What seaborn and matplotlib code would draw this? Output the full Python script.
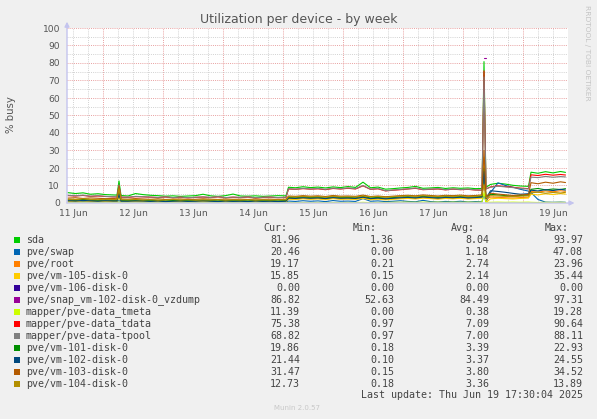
import numpy as np
import pandas as pd
import matplotlib
matplotlib.use("Agg")
import matplotlib.pyplot as plt
import seaborn as sns
from matplotlib.patches import Rectangle

nan = np.nan

# time axis: hours since 11 Jun 00:00
hours = [10, 13, 16, 19, 22, 25, 28,
         29.6, 30.4, 31.2,
         34, 37, 40, 43, 46, 49, 52, 55, 58, 61, 64, 67, 70, 73, 76, 79, 82, 85, 88, 91, 94, 97.2,
         98.2, 101, 104, 107, 110, 113, 116, 119, 122, 125, 128, 131, 134, 137, 140, 143, 146, 149,
         152, 155, 158, 161, 164, 167, 170, 173, 175.6,
         176.4, 177.2,
         179, 182, 185, 188, 191, 194.2,
         195.2, 198, 201, 204, 207, 209]

series_names = ["sda", "pve/swap", "pve/root", "pve/vm-105-disk-0", "pve/vm-106-disk-0",
                "pve/snap_vm-102-disk-0_vzdump", "mapper/pve-data_tmeta", "mapper/pve-data_tdata",
                "mapper/pve-data-tpool", "pve/vm-101-disk-0", "pve/vm-102-disk-0",
                "pve/vm-103-disk-0", "pve/vm-104-disk-0"]
series_colors = ["#00CC00", "#0066B3", "#FF8000", "#FFCC00", "#330099", "#990099", "#CCFF00",
                 "#FF0000", "#808080", "#008F00", "#00487D", "#B35A00", "#B38F00"]

sda = [5.9, 5.4, 5.8, 5.0, 5.3, 4.8, 4.6,
       4.5, 12.6, 4.3,
       4.0, 5.4, 4.8, 4.4, 4.2, 3.9, 4.1, 3.8, 4.0, 4.2, 5.0, 4.1, 3.8, 4.2, 5.1, 4.0, 3.9, 4.1, 3.8, 4.0, 4.2, 4.1,
       9.0, 8.7, 9.3, 8.8, 9.1, 8.6, 9.2, 8.8, 9.4, 8.9, 11.9, 8.7, 9.1, 7.9, 8.2, 8.6, 8.9, 9.5, 8.4, 8.6, 8.9, 8.3, 8.7, 8.4, 8.6, 8.2, 8.3,
       80.8, 9.0,
       10.6, 11.3, 10.8, 10.1, 9.7, 9.5,
       17.6, 17.0, 17.9, 17.2, 18.0, 17.5]
swap = [0.8, 0.5, 0.9, 0.6, 0.4, 0.8, 0.6,
        0.6, 1.5, 0.5,
        0.6, 0.8, 0.5, 0.7, 0.4, 0.6, 0.8, 0.5, 0.6, 0.4, 0.7, 0.6, 0.5, 0.7, 0.4, 0.6, 0.5, 0.7, 0.4, 0.6, 0.5, 0.6,
        1.1, 0.9, 1.3, 1.0, 1.2, 0.8, 1.4, 1.0, 1.1, 0.9, 2.5, 1.0, 1.2, 0.8, 1.0, 1.3, 0.9, 0.7, 1.5, 0.8, 0.6, 0.9, 0.7, 1.0, 0.6, 0.8, 0.7,
        5.0, 0.5,
        6.0, 11.5, 10.0, 9.0, 7.8, 6.8,
        6.0, 2.0, 0.5, 0.4, 0.5, 0.4]
root = [1.6, 1.4, 1.8, 1.5, 1.3, 1.6, 1.4,
        1.4, 4.0, 1.3,
        1.2, 1.4, 1.3, 1.1, 1.3, 1.0, 1.2, 1.3, 1.1, 1.2, 1.4, 1.2, 1.0, 1.3, 1.1, 1.2, 1.0, 1.3, 1.1, 1.2, 1.0, 1.2,
        2.5, 2.3, 2.7, 2.4, 2.6, 2.2, 2.8, 2.4, 2.5, 2.3, 3.0, 2.2, 2.5, 2.1, 2.4, 2.7, 2.9, 2.6, 3.1, 2.8, 2.5, 2.9, 2.7, 3.0, 2.6, 2.8, 3.1,
        16.0, 2.0,
        3.4, 3.2, 3.0, 2.8, 3.1, 3.3,
        6.6, 6.2, 6.9, 6.4, 7.0, 6.7]
vm105 = [1.0, 0.8, 1.2, 0.9, 0.7, 1.0, 0.8,
         0.8, 3.0, 0.7,
         0.8, 1.0, 0.9, 0.7, 0.9, 0.6, 0.8, 0.9, 0.7, 0.8, 1.0, 0.8, 0.6, 0.9, 0.7, 0.8, 0.6, 0.9, 0.7, 0.8, 0.6, 0.8,
         2.2, 2.0, 2.4, 2.1, 2.3, 1.9, 2.5, 2.1, 2.2, 2.0, 2.6, 1.9, 2.2, 1.8, 2.1, 2.4, 2.6, 2.3, 2.8, 2.5, 2.2, 2.6, 2.4, 2.7, 2.3, 2.5, 2.8,
         26.0, 0.3,
         2.4, 2.7, 2.5, 2.3, 2.6, 2.8,
         5.0, 4.6, 5.3, 4.8, 5.4, 5.1]
vm106 = [0, 0, 0, 0, 0, 0, 0,
         0, 0, 0,
         0, 0, 0, 0, 0, 0, 0, 0, 0, 0, 0, 0, 0, 0, 0, 0, 0, 0, 0, 0, 0, 0,
         0, 0, 0, 0, 0, 0, 0, 0, 0, 0, 0, 0, 0, 0, 0, 0, 0, 0, 0, 0, 0, 0, 0, 0, 0, 0, 0,
         0, 0,
         0, 0, 0, 0, 0, 0,
         0, 0, 0, 0, 0, 0]
snap102 = [nan, nan, nan, nan, nan, nan, nan,
           nan, nan, nan,
           nan, nan, nan, nan, nan, nan, nan, nan, nan, nan, nan, nan, nan, nan, nan, nan, nan, nan, nan, nan, nan, nan,
           nan, nan, nan, nan, nan, nan, nan, nan, nan, nan, nan, nan, nan, nan, nan, nan, nan, nan, nan, nan, nan, nan, nan, nan, nan, nan, nan,
           82.6, 82.6,
           nan, nan, nan, nan, nan, nan,
           nan, nan, nan, nan, nan, nan]
tmeta = [0.2, 0.1, 0.2, 0.1, 0.2, 0.1, 0.2,
         0.2, 0.5, 0.2,
         0.2, 0.1, 0.2, 0.1, 0.2, 0.1, 0.2, 0.1, 0.2, 0.1, 0.2, 0.1, 0.2, 0.1, 0.2, 0.1, 0.2, 0.1, 0.2, 0.1, 0.2, 0.1,
         0.3, 0.2, 0.3, 0.2, 0.3, 0.2, 0.3, 0.2, 0.3, 0.2, 0.4, 0.2, 0.3, 0.3, 0.4, 0.4, 0.5, 0.4, 0.5, 0.4, 0.5, 0.4, 0.5, 0.4, 0.5, 0.4, 0.5,
         6.0, 0.4,
         0.4, 0.5, 0.4, 0.5, 0.4, 0.5,
         0.4, 0.3, 0.4, 0.3, 0.4, 0.3]
tdata = [4.2, 4.0, 4.3, 3.8, 4.0, 3.7, 3.5,
         3.4, 10.0, 3.3,
         3.2, 3.6, 3.5, 3.3, 3.1, 3.4, 3.0, 3.3, 2.9, 3.2, 3.4, 3.1, 3.5, 3.0, 3.3, 3.1, 3.4, 2.9, 3.2, 3.3, 3.0, 3.2,
         8.0, 7.8, 8.2, 7.9, 8.1, 7.6, 8.3, 8.0, 8.4, 8.0, 9.8, 7.8, 8.1, 6.9, 7.3, 7.6, 8.0, 8.4, 7.6, 7.8, 8.0, 7.5, 7.9, 7.6, 7.8, 7.4, 7.3,
         75.5, 8.0,
         9.2, 9.8, 9.4, 9.0, 8.5, 8.2,
         16.1, 15.7, 16.4, 15.9, 16.3, 16.0]
tpool = [4.4, 4.1, 4.5, 3.9, 4.2, 3.8, 3.6,
         3.5, 10.4, 3.4,
         3.3, 3.8, 3.6, 3.4, 3.2, 3.5, 3.1, 3.4, 3.0, 3.3, 3.5, 3.2, 3.6, 3.1, 3.4, 3.2, 3.5, 3.0, 3.3, 3.4, 3.1, 3.3,
         8.2, 7.9, 8.4, 8.0, 8.3, 7.8, 8.5, 8.1, 8.6, 8.2, 10.0, 7.9, 8.3, 7.0, 7.4, 7.8, 8.1, 8.6, 7.7, 7.9, 8.2, 7.6, 8.0, 7.7, 7.9, 7.5, 7.4,
         72.0, 8.1,
         9.0, 9.6, 9.2, 8.8, 8.3, 8.0,
         14.8, 14.5, 15.2, 14.7, 15.1, 14.9]
vm101 = [1.8, 1.6, 2.0, 1.7, 1.5, 1.8, 1.6,
         1.6, 6.0, 1.5,
         1.4, 1.6, 1.5, 1.3, 1.5, 1.2, 1.4, 1.5, 1.3, 1.4, 1.6, 1.4, 1.2, 1.5, 1.3, 1.4, 1.2, 1.5, 1.3, 1.4, 1.2, 1.4,
         3.2, 3.0, 3.4, 3.1, 3.3, 2.9, 3.5, 3.1, 3.2, 3.0, 3.7, 2.9, 3.2, 2.8, 3.1, 3.4, 3.6, 3.3, 3.8, 3.5, 3.2, 3.6, 3.4, 3.7, 3.3, 3.5, 3.8,
         20.0, 3.0,
         5.0, 4.6, 4.2, 3.9, 4.3, 4.5,
         7.8, 8.3, 7.5, 8.0, 7.7, 8.2]
vm102 = [1.3, 1.1, 1.5, 1.2, 1.0, 1.3, 1.1,
         1.1, 5.0, 1.0,
         1.0, 1.2, 1.1, 0.9, 1.1, 0.8, 1.0, 1.1, 0.9, 1.0, 1.2, 1.0, 0.8, 1.1, 0.9, 1.0, 0.8, 1.1, 0.9, 1.0, 0.8, 1.0,
         2.8, 2.6, 3.0, 2.7, 2.9, 2.5, 3.1, 2.7, 2.8, 2.6, 3.3, 2.5, 2.8, 2.4, 2.7, 3.0, 3.2, 2.9, 3.4, 3.1, 2.8, 3.2, 3.0, 3.3, 2.9, 3.1, 3.4,
         18.0, 2.5,
         7.0, 6.6, 6.1, 5.5, 5.0, 5.3,
         7.3, 6.9, 7.6, 7.1, 7.8, 7.4]
vm103 = [2.8, 3.0, 2.6, 2.9, 2.7, 2.5, 2.6,
         2.4, 9.6, 2.3,
         2.2, 2.5, 2.3, 2.1, 2.4, 2.0, 2.2, 2.3, 2.0, 2.1, 2.4, 2.2, 2.0, 2.3, 2.1, 2.2, 2.0, 2.3, 2.1, 2.2, 2.0, 2.2,
         4.0, 3.8, 4.2, 3.9, 4.1, 3.7, 4.3, 3.9, 4.0, 3.8, 4.5, 3.7, 4.0, 3.6, 3.9, 4.2, 4.4, 4.1, 4.6, 4.3, 4.0, 4.4, 4.2, 4.5, 4.1, 4.3, 4.6,
         30.0, 3.5,
         5.6, 5.1, 4.7, 4.3, 4.6, 4.9,
         11.6, 11.0, 11.9, 11.3, 12.1, 11.7]
vm104 = [2.2, 2.0, 2.4, 2.1, 1.9, 2.2, 2.0,
         2.0, 8.2, 1.9,
         1.8, 2.0, 1.7, 1.9, 1.6, 1.8, 2.0, 1.7, 1.9, 1.6, 1.8, 1.7, 1.9, 1.6, 1.8, 1.7, 1.9, 1.6, 1.8, 1.7, 1.9, 1.8,
         3.6, 3.4, 3.8, 3.5, 3.7, 3.3, 3.9, 3.5, 3.6, 3.4, 4.0, 3.5, 3.7, 3.3, 3.6, 3.9, 4.1, 3.8, 4.2, 3.9, 3.7, 4.0, 3.8, 4.1, 3.7, 3.9, 4.2,
         10.5, 3.0,
         4.2, 4.0, 3.8, 3.6, 3.9, 4.1,
         5.8, 6.2, 5.6, 6.0, 5.7, 6.1]

# legend statistics
cur_vals = ["81.96", "20.46", "19.17", "15.85", "0.00", "86.82", "11.39", "75.38", "68.82", "19.86", "21.44", "31.47", "12.73"]
min_vals = ["1.36", "0.00", "0.21", "0.15", "0.00", "52.63", "0.00", "0.97", "0.97", "0.18", "0.10", "0.15", "0.18"]
avg_vals = ["8.04", "1.18", "2.74", "2.14", "0.00", "84.49", "0.38", "7.09", "7.00", "3.39", "3.37", "3.80", "3.36"]
max_vals = ["93.97", "47.08", "23.96", "35.44", "0.00", "97.31", "19.28", "90.64", "88.11", "22.93", "24.55", "34.52", "13.89"]

day_labels = ["11 Jun", "12 Jun", "13 Jun", "14 Jun", "15 Jun", "16 Jun", "17 Jun", "18 Jun", "19 Jun"]
y_ticks = [0, 10, 20, 30, 40, 50, 60, 70, 80, 90, 100]

all_series = [sda, swap, root, vm105, vm106, snap102, tmeta, tdata, tpool, vm101, vm102, vm103, vm104]
frames = []
for name, vals in zip(series_names, all_series):
    frames.append(pd.DataFrame({"hour": hours, "busy": vals, "device": name}))
df = pd.concat(frames, ignore_index=True)

sns.set_style("white")
plt.rcParams["font.family"] = ["DejaVu Sans"]

W, H = 597, 419
fig = plt.figure(figsize=(W / 100, H / 100), dpi=100, facecolor="#F0F0F0")


def fx(px):
    return px / W


def fy(py):
    return 1 - py / H


ax = fig.add_axes([fx(67), fy(203), (568 - 67) / W, (203 - 28) / H])
ax.set_facecolor("white")

# grid
xmin, xmax = 9.6, 210.0
for h in range(12, 210, 6):
    major = h % 24 == 0
    ax.axvline(h, color="#E8A0A0" if major else "#D2D2D2", lw=0.7, ls=(0, (1, 1.2)), zorder=0.5)
for v in range(5, 101, 5):
    major = v % 10 == 0
    ax.axhline(v, color="#E8A0A0" if major else "#D2D2D2", lw=0.7, ls=(0, (1, 1.2)), zorder=0.5)

sns.lineplot(data=df, x="hour", y="busy", hue="device", hue_order=series_names,
             palette=dict(zip(series_names, series_colors)), estimator=None, sort=False,
             linewidth=0.8, legend=False, ax=ax, zorder=2)

ax.set_xlim(xmin, xmax)
ax.set_ylim(0, 100)
for s in ax.spines.values():
    s.set_visible(False)

ax.set_xticks([12 + 24 * k for k in range(len(day_labels))])
ax.set_xticklabels(day_labels)
ax.set_xticks([24 * k for k in range(1, 9)], minor=True)
ax.tick_params(axis="x", which="major", length=0, pad=4, labelsize=6.6, labelcolor="#555555")
ax.tick_params(axis="x", which="minor", length=2, color="#E8A0A0", width=0.8, direction="out")
ax.set_yticks(y_ticks)
ax.set_yticklabels([str(v) for v in y_ticks])
ax.tick_params(axis="y", which="major", length=2, color="#C8C8F0", pad=3, labelsize=6.6, labelcolor="#555555")
ax.set_xlabel("")
ax.set_ylabel("")

axis_col = "#C4C4EE"
ax.annotate("", xy=(0, 1.036), xytext=(0, 0), xycoords="axes fraction", textcoords="axes fraction",
            arrowprops=dict(arrowstyle="-|>", color=axis_col, lw=1.0, mutation_scale=7, shrinkA=0, shrinkB=0),
            annotation_clip=False, zorder=3)
ax.annotate("", xy=(1.013, 0), xytext=(0, 0), xycoords="axes fraction", textcoords="axes fraction",
            arrowprops=dict(arrowstyle="-|>", color=axis_col, lw=1.0, mutation_scale=7, shrinkA=0, shrinkB=0),
            annotation_clip=False, zorder=3)

txt = "#555555"
fig.text(fx(298.5), fy(19), "Utilization per device - by week", ha="center", va="center", fontsize=9, color=txt)
fig.text(fx(11), fy(115), "% busy", rotation=90, ha="center", va="center", fontsize=7.3, color=txt)
fig.text(fx(587), fy(53), "RRDTOOL / TOBI OETIKER", rotation=270, ha="center", va="center", fontsize=5.4, color="#C4C4C4")
fig.text(fx(297), fy(408), "Munin 2.0.57", ha="center", va="center", fontsize=5.0, color="#C8C8C8")

mono = "DejaVu Sans Mono"
lt = "#444444"
lfs = 7.2
fig.text(fx(287), fy(228), "Cur:", ha="right", va="center", fontsize=lfs, family=mono, color=lt)
fig.text(fx(377), fy(228), "Min:", ha="right", va="center", fontsize=lfs, family=mono, color=lt)
fig.text(fx(475), fy(228), "Avg:", ha="right", va="center", fontsize=lfs, family=mono, color=lt)
fig.text(fx(569), fy(228), "Max:", ha="right", va="center", fontsize=lfs, family=mono, color=lt)
for i, name in enumerate(series_names):
    yy = 240 + 12 * i
    fig.patches.append(Rectangle((fx(14), fy(yy + 3)), 6 / W, 6 / H, transform=fig.transFigure,
                                 facecolor=series_colors[i], edgecolor="none"))
    fig.text(fx(26), fy(yy), name, ha="left", va="center", fontsize=lfs, family=mono, color=lt)
    fig.text(fx(300), fy(yy), cur_vals[i], ha="right", va="center", fontsize=lfs, family=mono, color=lt)
    fig.text(fx(394), fy(yy), min_vals[i], ha="right", va="center", fontsize=lfs, family=mono, color=lt)
    fig.text(fx(489), fy(yy), avg_vals[i], ha="right", va="center", fontsize=lfs, family=mono, color=lt)
    fig.text(fx(583), fy(yy), max_vals[i], ha="right", va="center", fontsize=lfs, family=mono, color=lt)
fig.text(fx(583), fy(395), "Last update: Thu Jun 19 17:30:04 2025", ha="right", va="center",
         fontsize=lfs, family=mono, color=lt)

fig.savefig("out.png", dpi=100, facecolor=fig.get_facecolor())
